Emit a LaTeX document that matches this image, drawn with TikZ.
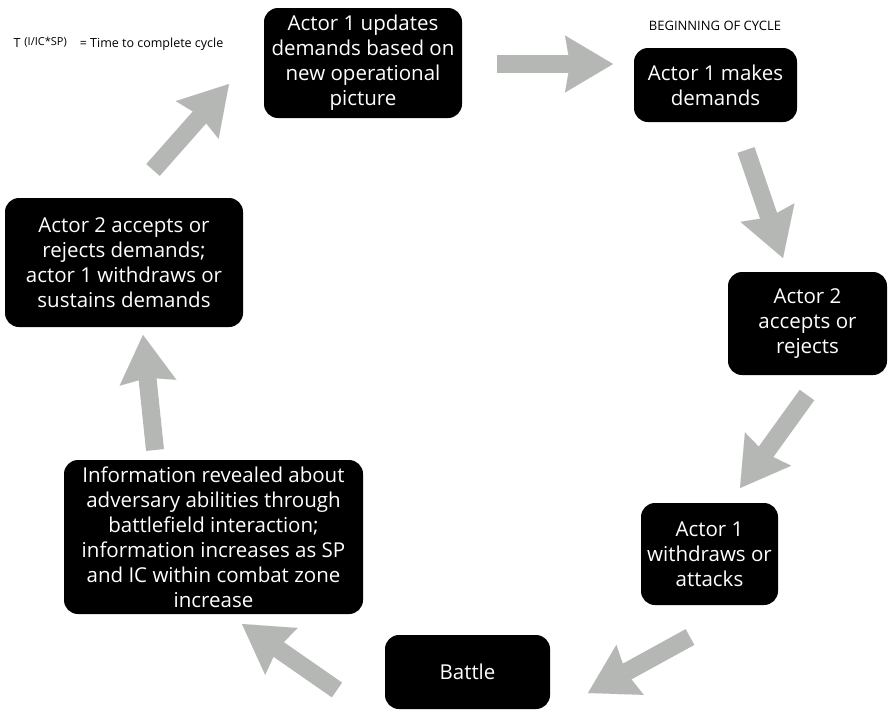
\documentclass[tikz,border=0pt]{standalone}
\usepackage{fontspec}
\setmainfont{Open Sans}
\usetikzlibrary{arrows.meta}
\definecolor{arrowgray}{HTML}{B5B7B5}
\tikzset{
  box/.style={fill=black, text=white, rounded corners=14pt, align=center, inner sep=0pt, font=\fontsize{20.5}{25}\selectfont},
  bigarrow/.style={draw=arrowgray, line width=18pt, -{Stealth[length=48pt, width=57pt, inset=5pt, line width=0.01pt, fill=arrowgray]}}
}
\begin{document}
\begin{tikzpicture}[x=1pt, y=-1pt]
\useasboundingbox (0,0) rectangle (889,710);
\node[anchor=west, font=\fontsize{12.5}{14}\selectfont] (cycletime) at (10,44) {T\hspace{4pt}\raisebox{2pt}{\fontsize{11}{12}\selectfont(I/IC*SP)}\hspace{13pt}= Time to complete cycle};
\node[font=\fontsize{13}{15}\selectfont] (begin) at (715,26) {BEGINNING OF CYCLE};
\node[box, minimum width=198pt, minimum height=110pt] (update) at (363,63) {Actor 1 updates\\demands based on\\new operational\\picture};
\node[box, minimum width=163pt, minimum height=74pt] (demand) at (715.5,85) {Actor 1 makes\\demands};
\node[box, minimum width=159pt, minimum height=103pt] (accept) at (807.5,323.5) {Actor 2\\accepts or\\rejects};
\node[box, minimum width=137pt, minimum height=102pt] (attack) at (709.5,554) {Actor 1\\withdraws or\\attacks};
\node[box, minimum width=165pt, minimum height=74pt] (battle) at (467.5,672) {Battle};
\node[box, minimum width=299pt, minimum height=154pt] (info) at (213.5,537) {Information revealed about\\adversary abilities through\\battlefield interaction;\\information increases as SP\\and IC within combat zone\\increase};
\node[box, minimum width=238pt, minimum height=129pt] (sustain) at (124,262.5) {Actor 2 accepts or\\rejects demands;\\actor 1 withdraws or\\sustains demands};
\coordinate (tail1) at (497,64);  \coordinate (tip1) at (613,64);
\coordinate (tail2) at (746,150); \coordinate (tip2) at (783,258);
\coordinate (tail3) at (807,395); \coordinate (tip3) at (740,488);
\coordinate (tail4) at (690,637); \coordinate (tip4) at (588,693);
\coordinate (tail5) at (337,690); \coordinate (tip5) at (242,624);
\coordinate (tail6) at (155,450); \coordinate (tip6) at (143,335);
\coordinate (tail7) at (153,170); \coordinate (tip7) at (229,84);
\draw[bigarrow] (tail1) -- (tip1);
\draw[bigarrow] (tail2) -- (tip2);
\draw[bigarrow] (tail3) -- (tip3);
\draw[bigarrow] (tail4) -- (tip4);
\draw[bigarrow] (tail5) -- (tip5);
\draw[bigarrow] (tail6) -- (tip6);
\draw[bigarrow] (tail7) -- (tip7);
\end{tikzpicture}
\end{document}
